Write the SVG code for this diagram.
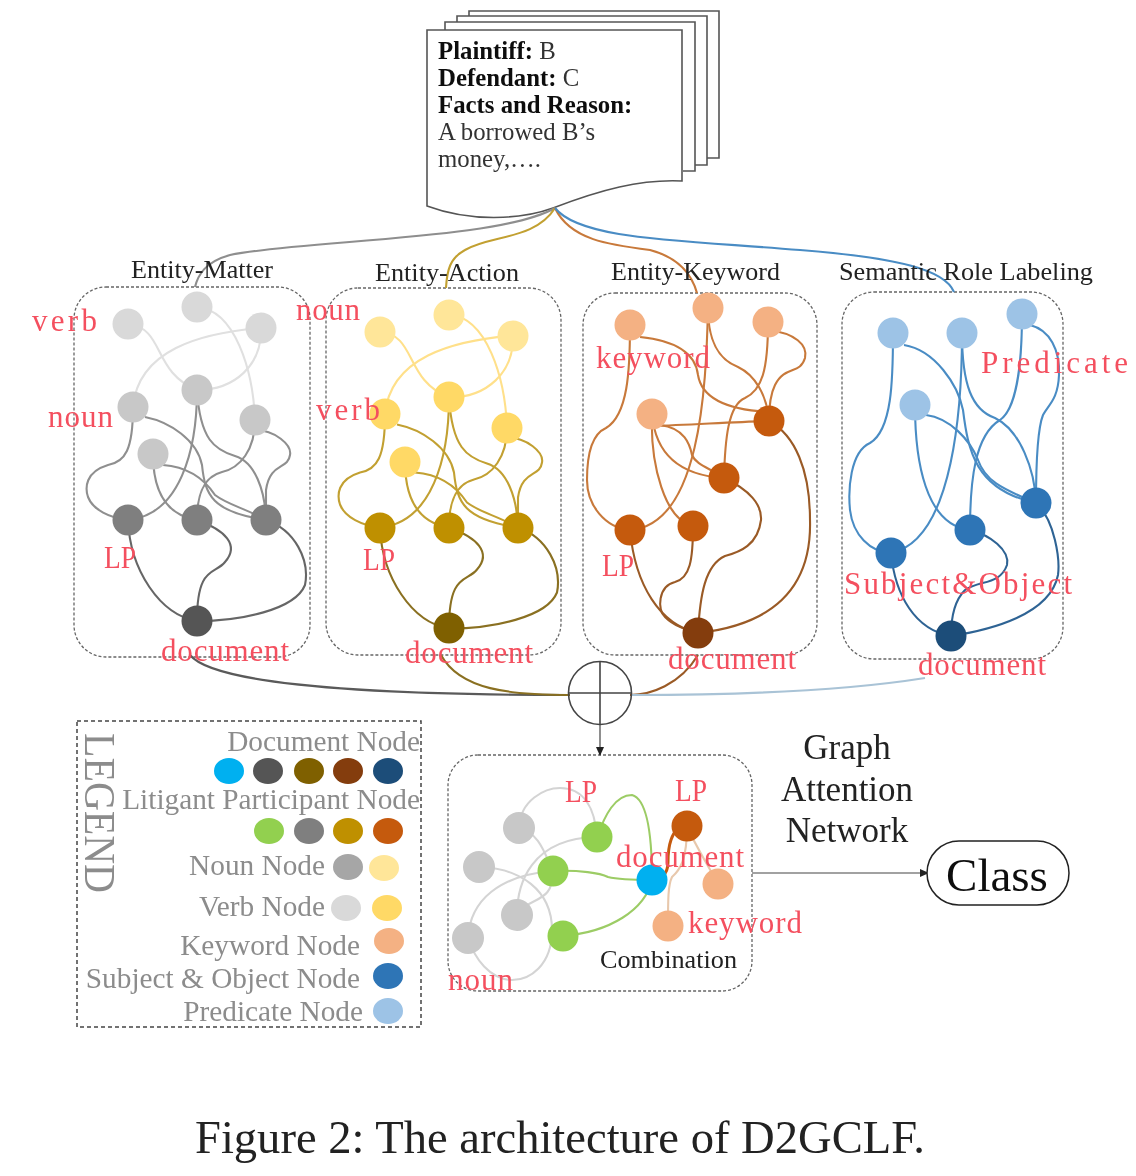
<svg xmlns="http://www.w3.org/2000/svg" width="1136" height="1176" viewBox="0 0 1136 1176">
<style>
text{font-family:"Liberation Serif","Times New Roman",serif}
.panel{fill:none;stroke:#666;stroke-width:1.3;stroke-dasharray:3 2}
.legbox{fill:none;stroke:#444;stroke-width:1.5;stroke-dasharray:4 3}
.page{fill:#fff;stroke:#555;stroke-width:1.6}
.edge path,.edge{fill:none;stroke-width:2.1}
.red{fill:#f4505f;font-size:31px}
.ttl{fill:#222;font-size:26px}
.big{fill:#222;font-size:35px;text-anchor:middle}
.leg{fill:#8c8c8c;font-size:29.3px;text-anchor:end}
.doc{fill:#333;font-size:24.8px}
.b{font-weight:bold;fill:#111}
.a1{fill:#d9d9d9}.a2{fill:#c8c8c8}.a3{fill:#7f7f7f}.a4{fill:#555}
.y1{fill:#ffe699}.y2{fill:#ffd966}.y3{fill:#bf9000}.y4{fill:#7f6000}
.o1{fill:#f4b183}.o3{fill:#c55a11}.o4{fill:#843c0c}
.b1{fill:#9dc3e6}.b3{fill:#2e75b6}.b4{fill:#1f4e79}
.g{fill:#92d050}.c{fill:#00b0f0}
</style>
<defs>
<filter id="soft" filterUnits="userSpaceOnUse" x="0" y="0" width="1136" height="1176"><feGaussianBlur stdDeviation="0.55"/></filter>
<marker id="arr" markerWidth="9" markerHeight="8" refX="8" refY="4" orient="auto" markerUnits="userSpaceOnUse"><path d="M0 0L9 4L0 8Z" fill="#222"/></marker>
<g id="ma">
<path d="M128 324C165 328 152 372 197 390"/>
<path d="M197 307C235 310 253 370 255 420"/>
<path d="M261 328C200 333 138 350 133 407"/>
<path d="M261 328C262 365 235 390 197 390"/>
</g>
<g id="mb">
<path d="M133 407C133 450 125 462 108 465C85 472 85 488 88 497C93 510 110 518 128 520"/>
<path d="M145 417C170 422 197 440 202 465C205 495 212 512 266 520"/>
<path d="M197 390C197 450 180 515 128 520"/>
<path d="M197 390C200 440 215 450 235 456C255 462 265 490 266 520"/>
<path d="M255 420C255 450 240 468 222 472C203 477 197 495 197 520"/>
<path d="M255 430C275 430 292 445 290 455C288 470 270 462 266 490L266 520"/>
<path d="M153 454C153 490 165 515 197 520"/>
<path d="M163 465C190 467 205 480 215 495C228 505 245 508 266 520"/>
</g>
<g id="mc">
<path d="M128 520C130 570 160 615 197 621"/>
<path d="M197 520C225 530 240 545 225 562C215 575 197 565 197 621"/>
<path d="M266 520C295 530 310 560 305 585C295 610 240 621 197 621"/>
</g>
</defs>
<g filter="url(#soft)">
<rect width="1136" height="1176" fill="#fff"/>
<g id="panels">
<rect id="panel-matter" class="panel" x="74" y="287" width="236" height="370" rx="32"/>
<rect id="panel-action" class="panel" x="326" y="288" width="235" height="367" rx="32"/>
<rect id="panel-keyword" class="panel" x="583" y="293" width="234" height="362" rx="32"/>
<rect id="panel-srl" class="panel" x="842" y="292" width="221" height="367" rx="32"/>
<rect id="panel-combination" class="panel" x="448" y="755" width="304" height="236" rx="30"/>
<rect id="panel-legend" class="legbox" x="77" y="721" width="344" height="306"/>
</g>

<g id="document">
<path class="page" d="M469 16V11H719V158H707"/>
<path class="page" d="M457 22V16H707V165H695"/>
<path class="page" d="M445 30V22H695V171H683"/>
<path class="page" d="M427 30H682V181C640 179 600 190 553 208C520 220 470 222 427 206Z"/>
<text class="doc" x="438" y="59"><tspan class="b">Plaintiff:</tspan> B</text>
<text class="doc" x="438" y="86"><tspan class="b">Defendant:</tspan> C</text>
<text class="doc b" x="438" y="113">Facts and Reason:</text>
<text class="doc" x="438" y="140">A borrowed B’s</text>
<text class="doc" x="438" y="167">money,….</text>
</g>

<g id="connectors">
<g class="edge">
<path stroke="#8e8e8e" d="M555 208C500 240 300 240 230 255C205 262 198 275 195 287"/>
<path stroke="#c2a030" d="M555 208C535 240 490 235 465 250C450 258 447 270 446 288"/>
<path stroke="#c8793a" d="M555 208C570 240 610 245 650 250C680 258 692 275 697 293"/>
<path stroke="#4a8cc4" d="M555 208C580 240 680 240 800 250C900 258 945 270 954 292"/>
<path stroke="#5a5a5a" d="M190 655C210 680 330 695 570 695"/>
<path stroke="#8a7020" d="M441 655C460 690 510 695 570 695"/>
<path stroke="#9a5a25" d="M698 655C680 685 650 695 630 695"/>
<path stroke="#a9c3d6" stroke-width="1.4" d="M632 695C750 695 850 690 925 678"/>
</g>
<g class="edge" stroke="#e0e0e0"><use href="#ma"/></g>
<g class="edge" stroke="#8f8f8f"><use href="#mb"/></g>
<g class="edge" stroke="#666"><use href="#mc"/></g>
<g class="edge" stroke="#ffe08a" transform="translate(252 7.5)"><use href="#ma"/></g>
<g class="edge" stroke="#c2a030" transform="translate(252 7.5)"><use href="#mb"/></g>
<g class="edge" stroke="#8a7020" transform="translate(252 7.5)"><use href="#mc"/></g>
<g class="edge" stroke="#c8793a">
<path d="M630 325C630 370 628 415 606 428C590 435 587 460 587 480C587 505 605 528 630 530"/>
<path d="M640 337C670 340 695 350 698 375C702 400 730 410 769 412"/>
<path d="M708 308C706 390 700 525 630 530"/>
<path d="M708 308C708 350 725 362 738 367C755 375 767 395 769 421"/>
<path d="M768 322C768 370 762 390 745 398C728 405 725 440 724 478"/>
<path d="M768 330C795 333 808 345 805 358C800 375 785 365 775 385C770 395 769 410 769 421"/>
<path d="M652 426C690 425 730 422 769 421"/>
<path d="M660 425C685 428 690 445 692 455C696 465 710 468 724 478"/>
<path d="M652 414C655 450 675 475 724 478"/>
<path d="M652 414C650 465 665 520 693 526"/>
</g>
<g class="edge" stroke="#9a5a25">
<path d="M630 530C635 585 660 625 698 633"/>
<path d="M693 526C693 560 690 578 675 582C658 586 657 610 665 617C675 627 688 630 698 633"/>
<path d="M724 478C750 490 762 505 761 520C758 545 740 552 725 556C705 565 700 595 698 633"/>
<path d="M769 421C795 435 810 470 810 520C812 590 770 625 698 633"/>
</g>
<g class="edge" stroke="#4a8cc4">
<path d="M893 333C893 380 892 430 870 443C850 452 848 490 850 510C853 535 870 552 891 553"/>
<path d="M904 345C935 350 958 385 963 410C968 450 975 490 1036 503"/>
<path d="M926 415C950 418 970 440 978 460C985 480 1000 488 1036 503"/>
<path d="M962 333C962 400 955 540 891 553"/>
<path d="M962 333C962 385 972 410 995 418C1020 430 1035 470 1036 503"/>
<path d="M1022 314C1022 370 1015 410 1000 420C975 435 970 480 970 530"/>
<path d="M1030 325C1050 330 1060 350 1059 375C1058 400 1048 405 1043 415C1037 430 1036 470 1036 503"/>
<path d="M915 405C915 460 925 525 970 530"/>
</g>
<g class="edge" stroke="#2f6494">
<path d="M891 553C895 595 915 630 951 636"/>
<path d="M970 530C990 535 1010 550 1007 565C1000 585 980 580 965 590C955 600 951 615 951 636"/>
<path d="M1036 503C1055 520 1060 560 1058 575C1050 615 990 630 951 636"/>
</g>
<g class="edge" stroke="#d4d4d4" style="stroke-width:1.5">
<path d="M519 828C520 800 545 788 560 788C585 788 595 810 597 837"/>
<path d="M519 828C540 833 545 855 553 871"/>
<path d="M479 867C520 868 552 890 552 930C552 965 530 981 510 980C490 978 475 960 468 938"/>
<path d="M517 915C517 885 530 838 597 837"/>
<path d="M517 915C530 895 553 905 553 871"/>
<path d="M468 938C470 900 500 875 553 871"/>
</g>
<g class="edge" stroke="#9ccc65" style="stroke-width:2.4">
<path d="M597 837C605 815 615 795 632 795C650 800 652 850 652 880"/>
<path d="M553 871C580 870 600 873 608 877C620 880 635 880 652 880"/>
<path d="M563 936C610 932 645 910 652 880"/>
</g>
<path fill="none" stroke="#c55a11" stroke-width="3" d="M687 826C670 826 668 850 668 862C668 875 660 880 652 880"/>
<g class="edge" stroke="#e8c8ac" style="stroke-width:1.5">
<path d="M687 826C687 860 680 870 672 877C668 885 668 900 668 926"/>
<path d="M687 826C695 845 705 860 718 884"/>
</g>
<path fill="none" stroke="#444" stroke-width="1.2" marker-end="url(#arr)" d="M600 725V755"/>
<path fill="none" stroke="#444" stroke-width="1.2" marker-end="url(#arr)" d="M752 873H928"/>
</g>

<g id="sum">
<circle cx="600" cy="693" r="31.5" fill="none" stroke="#444" stroke-width="1.6"/>
<path d="M568 693H632M600 661V725" stroke="#444" stroke-width="1.6"/>
</g>

<g id="nodes-matter">
<g id="m1"><circle class="a1" cx="128" cy="324" r="15.5"/></g>
<g id="m2"><circle class="a1" cx="197" cy="307" r="15.5"/></g>
<g id="m3"><circle class="a1" cx="261" cy="328" r="15.5"/></g>
<g id="m4"><circle class="a2" cx="197" cy="390" r="15.5"/></g>
<g id="m5"><circle class="a2" cx="133" cy="407" r="15.5"/></g>
<g id="m6"><circle class="a2" cx="255" cy="420" r="15.5"/></g>
<g id="m7"><circle class="a2" cx="153" cy="454" r="15.5"/></g>
<g id="m8"><circle class="a3" cx="128" cy="520" r="15.5"/></g>
<g id="m9"><circle class="a3" cx="197" cy="520" r="15.5"/></g>
<g id="m10"><circle class="a3" cx="266" cy="520" r="15.5"/></g>
<g id="m11"><circle class="a4" cx="197" cy="621" r="15.5"/></g>
</g>
<g id="nodes-action">
<g id="a1"><circle class="y1" cx="380" cy="332" r="15.5"/></g>
<g id="a2"><circle class="y1" cx="449" cy="315" r="15.5"/></g>
<g id="a3"><circle class="y1" cx="513" cy="336" r="15.5"/></g>
<g id="a4"><circle class="y2" cx="449" cy="397" r="15.5"/></g>
<g id="a5"><circle class="y2" cx="385" cy="414" r="15.5"/></g>
<g id="a6"><circle class="y2" cx="507" cy="428" r="15.5"/></g>
<g id="a7"><circle class="y2" cx="405" cy="462" r="15.5"/></g>
<g id="a8"><circle class="y3" cx="380" cy="528" r="15.5"/></g>
<g id="a9"><circle class="y3" cx="449" cy="528" r="15.5"/></g>
<g id="a10"><circle class="y3" cx="518" cy="528" r="15.5"/></g>
<g id="a11"><circle class="y4" cx="449" cy="628" r="15.5"/></g>
</g>
<g id="nodes-keyword">
<g id="k1"><circle class="o1" cx="630" cy="325" r="15.5"/></g>
<g id="k2"><circle class="o1" cx="708" cy="308" r="15.5"/></g>
<g id="k3"><circle class="o1" cx="768" cy="322" r="15.5"/></g>
<g id="k4"><circle class="o1" cx="652" cy="414" r="15.5"/></g>
<g id="k5"><circle class="o3" cx="769" cy="421" r="15.5"/></g>
<g id="k6"><circle class="o3" cx="724" cy="478" r="15.5"/></g>
<g id="k7"><circle class="o3" cx="630" cy="530" r="15.5"/></g>
<g id="k8"><circle class="o3" cx="693" cy="526" r="15.5"/></g>
<g id="k9"><circle class="o4" cx="698" cy="633" r="15.5"/></g>
</g>
<g id="nodes-srl">
<g id="s1"><circle class="b1" cx="893" cy="333" r="15.5"/></g>
<g id="s2"><circle class="b1" cx="962" cy="333" r="15.5"/></g>
<g id="s3"><circle class="b1" cx="1022" cy="314" r="15.5"/></g>
<g id="s4"><circle class="b1" cx="915" cy="405" r="15.5"/></g>
<g id="s5"><circle class="b3" cx="1036" cy="503" r="15.5"/></g>
<g id="s6"><circle class="b3" cx="970" cy="530" r="15.5"/></g>
<g id="s7"><circle class="b3" cx="891" cy="553" r="15.5"/></g>
<g id="s8"><circle class="b4" cx="951" cy="636" r="15.5"/></g>
</g>
<g id="nodes-combination">
<g id="c1"><circle class="a2" cx="519" cy="828" r="16"/></g>
<g id="c2"><circle class="a2" cx="479" cy="867" r="16"/></g>
<g id="c3"><circle class="a2" cx="517" cy="915" r="16"/></g>
<g id="c4"><circle class="a2" cx="468" cy="938" r="16"/></g>
<g id="c5"><circle class="g" cx="597" cy="837" r="15.5"/></g>
<g id="c6"><circle class="g" cx="553" cy="871" r="15.5"/></g>
<g id="c7"><circle class="g" cx="563" cy="936" r="15.5"/></g>
<g id="c8"><circle class="c" cx="652" cy="880" r="15.5"/></g>
<g id="c9"><circle class="o3" cx="687" cy="826" r="15.5"/></g>
<g id="c10"><circle class="o1" cx="718" cy="884" r="15.5"/></g>
<g id="c11"><circle class="o1" cx="668" cy="926" r="15.5"/></g>
</g>

<g id="class-node">
<rect x="927" y="841" width="142" height="64" rx="32" fill="#fff" stroke="#222" stroke-width="1.5"/>
<text x="997" y="891" font-size="47" fill="#111" text-anchor="middle">Class</text>
</g>

<g id="legend">
<text x="85" y="733" font-size="44" fill="#8c8c8c" transform="rotate(90 85 733)" textLength="160" lengthAdjust="spacingAndGlyphs">LEGEND</text>
<text class="leg" x="420" y="751">Document Node</text>
<ellipse class="c" cx="229" cy="771" rx="15" ry="13"/>
<ellipse class="a4" cx="268" cy="771" rx="15" ry="13"/>
<ellipse class="y4" cx="309" cy="771" rx="15" ry="13"/>
<ellipse class="o4" cx="348" cy="771" rx="15" ry="13"/>
<ellipse class="b4" cx="388" cy="771" rx="15" ry="13"/>
<text class="leg" x="420" y="809">Litigant Participant Node</text>
<ellipse class="g" cx="269" cy="831" rx="15" ry="13"/>
<ellipse class="a3" cx="309" cy="831" rx="15" ry="13"/>
<ellipse class="y3" cx="348" cy="831" rx="15" ry="13"/>
<ellipse class="o3" cx="388" cy="831" rx="15" ry="13"/>
<text class="leg" x="325" y="875">Noun Node</text>
<ellipse fill="#a6a6a6" cx="348" cy="867" rx="15" ry="13"/>
<ellipse class="y1" cx="384" cy="868" rx="15" ry="13"/>
<text class="leg" x="325" y="916">Verb Node</text>
<ellipse class="a1" cx="346" cy="908" rx="15" ry="13"/>
<ellipse class="y2" cx="387" cy="908" rx="15" ry="13"/>
<text class="leg" x="360" y="955">Keyword Node</text>
<ellipse class="o1" cx="389" cy="941" rx="15" ry="13"/>
<text class="leg" x="360" y="988">Subject &amp; Object Node</text>
<ellipse class="b3" cx="388" cy="976" rx="15" ry="13"/>
<text class="leg" x="363" y="1021">Predicate Node</text>
<ellipse class="b1" cx="388" cy="1011" rx="15" ry="13"/>
</g>

<g id="labels">
<text class="ttl" x="131" y="278" textLength="142" lengthAdjust="spacingAndGlyphs">Entity-Matter</text>
<text class="ttl" x="375" y="281" textLength="144" lengthAdjust="spacingAndGlyphs">Entity-Action</text>
<text class="ttl" x="611" y="280" textLength="169" lengthAdjust="spacingAndGlyphs">Entity-Keyword</text>
<text class="ttl" x="839" y="280" textLength="254" lengthAdjust="spacingAndGlyphs">Semantic Role Labeling</text>
<text class="ttl" x="600" y="968" textLength="137" lengthAdjust="spacingAndGlyphs">Combination</text>
<text class="big" x="847" y="759">Graph</text>
<text class="big" x="847" y="801">Attention</text>
<text class="big" x="847" y="842">Network</text>
<text x="195" y="1153" font-size="46" fill="#222" textLength="730" lengthAdjust="spacingAndGlyphs">Figure 2: The architecture of D2GCLF.</text>
<text class="red" x="32" y="331" textLength="65">verb</text>
<text class="red" x="48" y="427" textLength="65">noun</text>
<text class="red" x="104" y="568" textLength="32" lengthAdjust="spacingAndGlyphs">LP</text>
<text class="red" x="161" y="661" textLength="128">document</text>
<text class="red" x="296" y="320" textLength="64">noun</text>
<text class="red" x="316" y="420" textLength="64">verb</text>
<text class="red" x="363" y="570" textLength="32" lengthAdjust="spacingAndGlyphs">LP</text>
<text class="red" x="405" y="663" textLength="128">document</text>
<text class="red" x="596" y="368" textLength="114">keyword</text>
<text class="red" x="602" y="576" textLength="32" lengthAdjust="spacingAndGlyphs">LP</text>
<text class="red" x="668" y="669" textLength="128">document</text>
<text class="red" x="981" y="373" textLength="147">Predicate</text>
<text class="red" x="844" y="594" textLength="228">Subject&amp;Object</text>
<text class="red" x="918" y="675" textLength="128">document</text>
<text class="red" x="565" y="802" textLength="32" lengthAdjust="spacingAndGlyphs">LP</text>
<text class="red" x="675" y="801" textLength="32" lengthAdjust="spacingAndGlyphs">LP</text>
<text class="red" x="616" y="867" textLength="128">document</text>
<text class="red" x="688" y="933" textLength="114">keyword</text>
<text class="red" x="448" y="990" textLength="65">noun</text>
</g>
</g>
</svg>
